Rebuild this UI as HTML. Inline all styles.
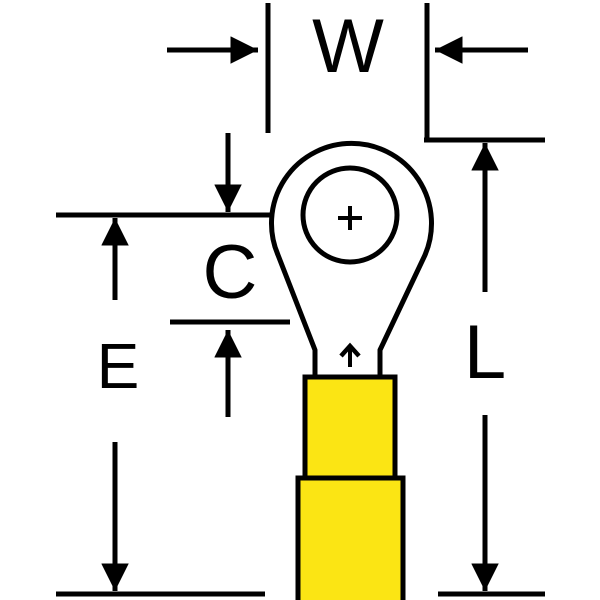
<!DOCTYPE html>
<html><head><style>html,body{margin:0;padding:0;background:#fff}svg{display:block}</style></head>
<body>
<svg width="600" height="600" viewBox="0 0 600 600" xmlns="http://www.w3.org/2000/svg">
<defs>
<marker id="a" viewBox="0 0 10 10" refX="10" refY="5" markerWidth="5.5" markerHeight="5.5" orient="auto-start-reverse" markerUnits="strokeWidth">
<path d="M0,0 L10,5 L0,10 z" fill="#000"/>
</marker>
</defs>
<g stroke="#000" stroke-width="5" fill="none">
<line x1="268" y1="3" x2="268" y2="133"/>
<line x1="427" y1="3" x2="427" y2="140"/>
<line x1="424" y1="140" x2="545" y2="140"/>
<line x1="167" y1="50" x2="258" y2="50" marker-end="url(#a)"/>
<line x1="528" y1="50" x2="435" y2="50" marker-end="url(#a)"/>
<line x1="485" y1="292" x2="485" y2="143" marker-end="url(#a)"/>
<line x1="485" y1="415" x2="485" y2="591" marker-end="url(#a)"/>
<line x1="438" y1="594" x2="545" y2="594"/>
<line x1="56" y1="215" x2="305" y2="215"/>
<line x1="228" y1="133" x2="228" y2="212" marker-end="url(#a)"/>
<line x1="170" y1="322" x2="290" y2="322"/>
<line x1="228" y1="417" x2="228" y2="330" marker-end="url(#a)"/>
<line x1="115" y1="300" x2="115" y2="218" marker-end="url(#a)"/>
<line x1="115" y1="442" x2="115" y2="591" marker-end="url(#a)"/>
<line x1="56" y1="594" x2="265" y2="594"/>
</g>
<path d="M315,377 L315,350 L278,255 A80,80 0 1 1 425,255 L380,350 L380,377" fill="#fff" stroke="#000" stroke-width="5" stroke-linejoin="round"/>
<circle cx="350" cy="215" r="47" fill="#fff" stroke="#000" stroke-width="5"/>
<g stroke="#000" stroke-width="4" fill="none">
<line x1="338" y1="218" x2="362" y2="218"/>
<line x1="350" y1="206" x2="350" y2="230"/>
<line x1="350" y1="367" x2="350" y2="346"/>
<polyline points="341,356 350,346 359,356" stroke-width="4.5"/>
</g>
<rect x="305" y="377" width="90" height="101" fill="#fbe514" stroke="#000" stroke-width="5"/>
<rect x="298" y="478" width="105" height="130" fill="#fbe514" stroke="#000" stroke-width="5"/>
<g font-family="Liberation Sans, sans-serif" fill="#000" text-anchor="middle">
<text x="348" y="72" font-size="76">W</text>
<text x="230" y="298" font-size="76">C</text>
<text x="118" y="388" font-size="64">E</text>
<text x="485" y="378" font-size="76">L</text>
</g>
</svg>
</body></html>
